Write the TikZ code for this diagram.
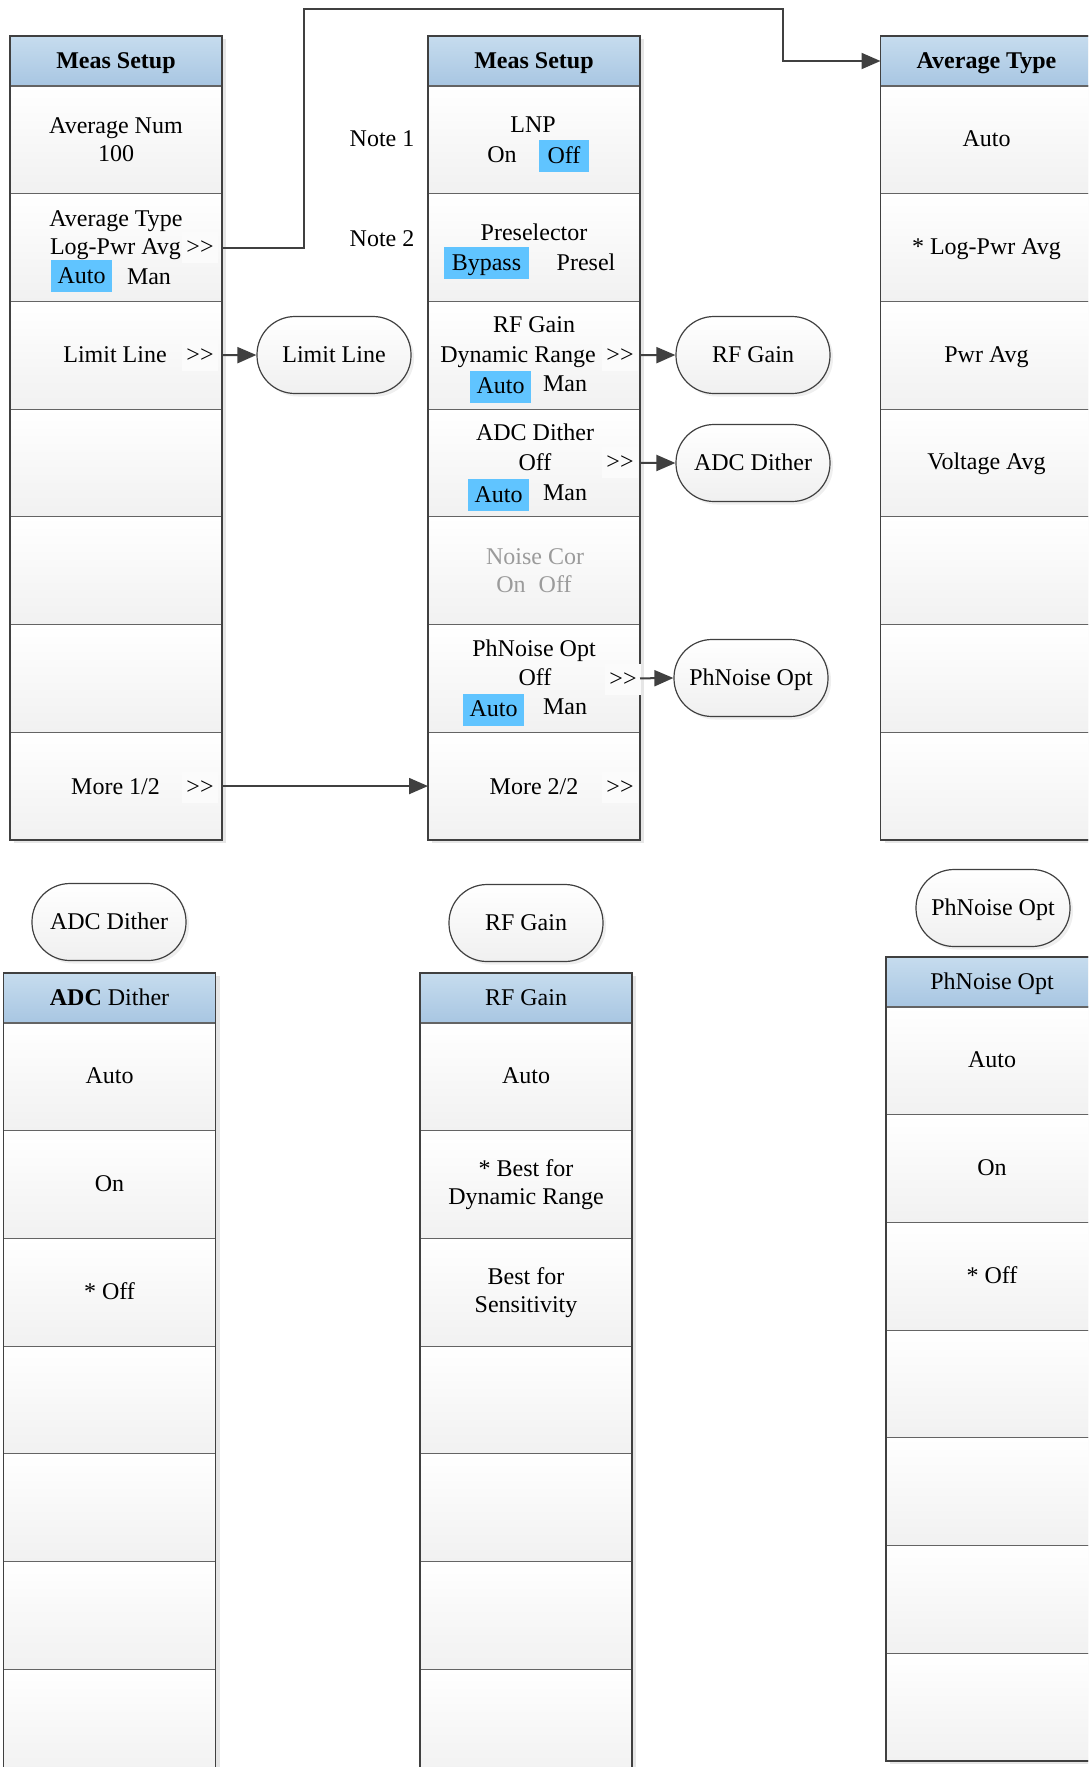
\documentclass[tikz,border=0pt]{standalone}
\usepackage{fontspec}
\setmainfont{Liberation Serif}
\usetikzlibrary{arrows.meta,shadows,calc}
\definecolor{lc}{RGB}{64,64,64}
\definecolor{sep}{RGB}{100,100,100}
\definecolor{hdrtop}{RGB}{198,220,238}
\definecolor{hdrbot}{RGB}{168,198,226}
\definecolor{hl}{RGB}{96,196,255}
\definecolor{dim}{RGB}{155,155,155}
\definecolor{shd}{RGB}{230,230,230}
\newcommand\menucol[4]{%
  \fill[shd] (#2+4,#3+3) rectangle ++(212,{50+7*107.7});
  \node[hdrbox] (#1h) at (#2,#3) {#4};
  \foreach \i in {1,...,7} {\node[rowbox] (#1r\i) at (#2,{#3+50+(\i-1)*107.7}) {};}
  \draw[lc, line width=0.8pt] (#2,#3) rectangle ++(212,{50+7*107.7});
}
\begin{document}
\begin{tikzpicture}[x=0.5pt,y=-0.5pt,
  every node/.style={font=\fontsize{12}{14}\selectfont, inner sep=0pt},
  txt/.style={text height=9pt, text depth=2pt},
  hdrbox/.style={draw=lc, line width=0.8pt, outer sep=0pt, top color=hdrtop, bottom color=hdrbot, minimum width=106pt, minimum height=25pt, anchor=north west, txt},
  rowbox/.style={draw=sep, line width=0.6pt, outer sep=0pt, top color=white, bottom color=gray!11, minimum width=106pt, minimum height=53.85pt, anchor=north west},
  pill/.style={draw=lc, line width=0.6pt, rounded corners=19pt, top color=white, bottom color=gray!12, minimum width=77pt, minimum height=38.5pt, txt, drop shadow={shadow xshift=1.5pt, shadow yshift=-1.5pt, fill=gray!25}},
  conn/.style={draw=lc, line width=1pt, -{Triangle[length=9.5pt,width=8pt]}},
  hlbox/.style={fill=hl, minimum height=16pt, txt},
  gtbox/.style={fill=gray!3, minimum width=18pt, minimum height=15.5pt, txt},
]
\path[use as bounding box] (0,0) rectangle (1088,1767);
\clip (0,0) rectangle (1088,1767);

% ---------- columns ----------
\menucol{c1}{10}{36}{\textbf{Meas Setup}}
\menucol{c2}{428}{36}{\textbf{Meas Setup}}
\menucol{c3}{880.5}{36}{\textbf{Average Type}}
\menucol{c4}{3.5}{973}{\textbf{ADC} Dither}
\menucol{c5}{420}{973}{RF Gain}
\menucol{c6}{886}{957}{PhNoise Opt}

% ---------- column 1 texts ----------
\node[txt] (t1a) at (116,126) {Average Num};
\node[txt] (t1b) at (116,154) {100};
\node[txt] (t1c) at (116,219) {Average Type};
\node[txt] (t1d) at (115.5,247) {Log-Pwr Avg};
\node[gtbox] (g1a) at (200,247.5) {>\kern0pt>};
\node[hlbox, minimum width=30.5pt] (h1a) at (81.5,276) {Auto};
\node[txt] (t1e) at (149,277) {Man};
\node[txt] (t1f) at (115,355) {Limit Line};
\node[gtbox] (g1b) at (200,355.5) {>\kern0pt>};
\node[txt] (t1g) at (115.5,787) {More 1/2};
\node[gtbox] (g1c) at (200,787) {>\kern0pt>};

\node[txt] (n1) at (382,139) {Note 1};
\node[txt] (n2) at (382,239) {Note 2};

% ---------- column 2 texts ----------
\node[txt] (t2a) at (533,125) {LNP};
\node[txt] (t2b) at (502,155) {On};
\node[hlbox, minimum width=25pt] (h2a) at (564,156) {Off};
\node[txt] (t2c) at (534,233) {Preselector};
\node[hlbox, minimum width=42.5pt] (h2b) at (486.5,263) {Bypass};
\node[txt] (t2d) at (586,263) {Presel};
\node[txt] (t2e) at (534,325) {RF Gain};
\node[txt] (t2f) at (518,355) {Dynamic Range};
\node[gtbox] (g2a) at (620,355.5) {>\kern0pt>};
\node[hlbox, minimum width=30.5pt] (h2c) at (500.5,386.5) {Auto};
\node[txt] (t2g) at (565,384) {Man};
\node[txt] (t2h) at (535,433) {ADC Dither};
\node[txt] (t2i) at (535,463) {Off};
\node[gtbox] (g2b) at (620,462.5) {>\kern0pt>};
\node[hlbox, minimum width=30.5pt] (h2d) at (498.5,495) {Auto};
\node[txt] (t2j) at (565,493) {Man};
\node[txt, text=dim] (t2k) at (535,557) {Noise Cor};
\node[txt, text=dim] (t2l) at (534,585) {On\hspace{6.5pt}Off};
\node[txt] (t2m) at (534,649) {PhNoise Opt};
\node[txt] (t2n) at (535,678) {Off};
\node[gtbox] (g2c) at (623,679) {>\kern0pt>};
\node[hlbox, minimum width=30.5pt] (h2e) at (493.5,709.5) {Auto};
\node[txt] (t2o) at (565,707) {Man};
\node[txt] (t2p) at (534,787) {More 2/2};
\node[gtbox] (g2d) at (620,787) {>\kern0pt>};

% ---------- column 3 texts ----------
\node[txt] (t3a) at (c3r1.center) {Auto};
\node[txt] (t3b) at (c3r2.center) {* Log-Pwr Avg};
\node[txt] (t3c) at (c3r3.center) {Pwr Avg};
\node[txt] (t3d) at (c3r4.center) {Voltage Avg};

% ---------- bottom columns texts ----------
\node[txt] (t4a) at (c4r1.center) {Auto};
\node[txt] (t4b) at (c4r2.center) {On};
\node[txt] (t4c) at (c4r3.center) {* Off};
\node[txt] (t5a) at (c5r1.center) {Auto};
\node[align=center] (t5b) at (c5r2.center) {* Best for\\Dynamic Range};
\node[align=center] (t5c) at (c5r3.center) {Best for\\Sensitivity};
\node[txt] (t6a) at (c6r1.center) {Auto};
\node[txt] (t6b) at (c6r2.center) {On};
\node[txt] (t6c) at (c6r3.center) {* Off};

% ---------- pills ----------
\node[pill] (pLimit) at (334,355) {Limit Line};
\node[pill] (pRF) at (753,355) {RF Gain};
\node[pill] (pADC) at (753,463) {ADC Dither};
\node[pill] (pPh) at (751,678) {PhNoise Opt};
\node[pill] (pADC2) at (109,922) {ADC Dither};
\node[pill] (pRF2) at (526,923) {RF Gain};
\node[pill] (pPh2) at (993,908) {PhNoise Opt};

% ---------- connectors ----------
\coordinate (bendA) at (304,9);
\coordinate (bendB) at (783,0);
\draw[conn] (c1r2.east) -| (bendA) -| (bendB |- c3h.west) -- (c3h.west);
\draw[conn] (c1r3.east) -- (pLimit.west);
\draw[conn] (c1r7.east) -- (c2r7.west);
\draw[conn] (c2r3.east) -- (pRF.west);
\draw[conn] (c2r4.east) -- (pADC.west);
\draw[conn] (c2r6.east) -- (pPh.west);
\end{tikzpicture}
\end{document}
